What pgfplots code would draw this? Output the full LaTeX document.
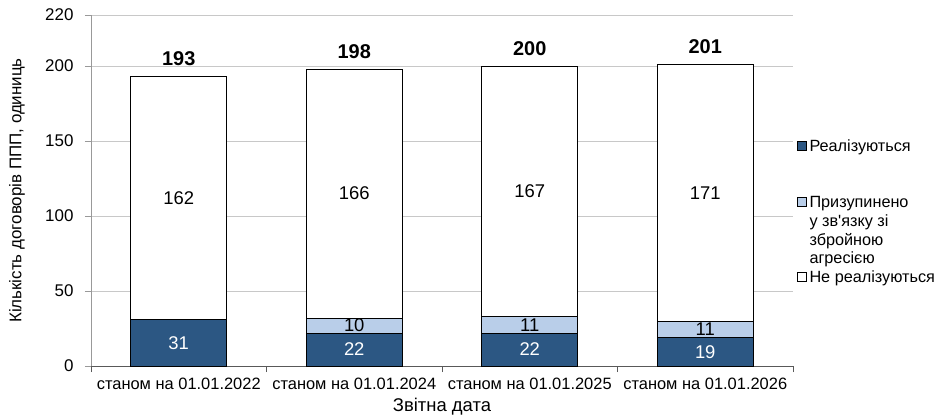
\documentclass[border=0pt]{standalone}
\usepackage{fontspec}
\setmainfont{Liberation Sans}
\usepackage{pgfplots}
\usepackage{pgfplotstable}
\pgfplotsset{compat=1.18}

\definecolor{realblue}{RGB}{44,87,131}
\definecolor{pauseblue}{RGB}{185,206,233}
\definecolor{gridgray}{RGB}{200,200,200}

\pgfplotsset{
    sqlegend/.style={legend image code/.code={\draw[##1, line width=0.8bp] (0bp,1bp) rectangle (9bp,10bp);}},
    seglabel/.style={point meta=explicit,
        every node near coord/.style={anchor=center, text=#1, font=\fontsize{18.5}{21}\selectfont}},
    frame/.style={scale only axis, width=702bp, height=351bp,
        xmin=-0.5, xmax=3.5, ymin=0, ymax=234,
        /pgf/number format/assume math mode=true},
}

% x: category index; real / paused / notreal: segments; total: bar sum
\pgfplotstableread{
x real paused notreal total plabel
0 31 0 162 193 {}
1 22 10 166 198 10
2 22 11 167 200 11
3 19 11 171 201 11
}\datatable

\begin{document}
\begin{tikzpicture}
\begin{axis}[
    frame,
    ybar stacked, bar width=96bp,
    xtick={0,1,2,3},
    xticklabels={станом на 01.01.2022, станом на 01.01.2024, станом на 01.01.2025, станом на 01.01.2026},
    minor xtick={-0.5,0.5,1.5,2.5,3.5},
    ytick={0,50,100,150,200,234},
    yticklabels={0,50,100,150,200,220},
    axis lines*=left,
    axis line style={-},
    x axis line style={draw=black!65, line width=0.8bp},
    y axis line style={draw=black!40, line width=0.8bp},
    tick align=outside,
    major tick length=6bp, minor tick length=6bp,
    major x tick style={draw=none},
    minor x tick style={draw=black!65, line width=0.8bp},
    ytick style={draw=black!40, line width=0.8bp},
    ymajorgrids,
    major grid style={draw=gridgray, line width=0.8bp},
    yticklabel style={font=\fontsize{17}{20}\selectfont, xshift=-8bp},
    xticklabel style={font=\fontsize{16.5}{20}\selectfont, yshift=-2bp},
    xlabel={Звітна дата},
    ylabel={Кількість договорів ППП, одиниць},
    every axis x label/.style={at={(axis description cs:0.5,0)}, anchor=center, yshift=-41bp, font=\fontsize{18.5}{22}\selectfont},
    every axis y label/.style={at={(axis description cs:-0.1054,0.5)}, anchor=center, rotate=90, font=\fontsize{17}{20}\selectfont},
    legend style={at={(axis description cs:1.0,0.6456)}, anchor=north west, xshift=4bp, draw=none, fill=none,
        font=\fontsize{16.3}{19}\selectfont, inner sep=0pt, row sep=1.7bp,
        cells={anchor=base west},
        nodes={inner xsep=2.5bp, inner ysep=1bp, text height=11bp, text depth=4bp}},
]
\addplot[fill=realblue, draw=black, line width=0.8bp, sqlegend,
    seglabel=white, nodes near coords]
    table[x=x, y=real, meta=real]{\datatable};
\addlegendentry{Реалізуються}
\addlegendimage{empty legend}
\addlegendentry{}
\addlegendimage{empty legend}
\addlegendentry{}
\addplot[fill=pauseblue, draw=black, line width=0.8bp, sqlegend,
    seglabel=black, point meta=explicit symbolic, nodes near coords={\pgfplotspointmeta}]
    table[x=x, y=paused, meta=plabel]{\datatable};
\addlegendentry{Призупинено}
\addlegendimage{empty legend}
\addlegendentry{у зв\textquotesingle язку зі}
\addlegendimage{empty legend}
\addlegendentry{збройною}
\addlegendimage{empty legend}
\addlegendentry{агресією}
\addplot[fill=white, draw=black, line width=0.8bp, sqlegend,
    seglabel=black, nodes near coords]
    table[x=x, y=notreal, meta=notreal]{\datatable};
\addlegendentry{Не реалізуються}
\end{axis}
% totals above the bars, on a hidden axis with the same frame
\begin{axis}[frame, hide axis]
\addplot[draw=none, mark=none,
    point meta=explicit, nodes near coords,
    every node near coord/.style={anchor=south, yshift=7bp, text=black, font=\fontsize{20}{24}\selectfont\bfseries}]
    table[x=x, y=total, meta=total]{\datatable};
\end{axis}
\pgfresetboundingbox
\useasboundingbox (-91bp,-52bp) rectangle (850bp,366bp);
\end{tikzpicture}
\end{document}
